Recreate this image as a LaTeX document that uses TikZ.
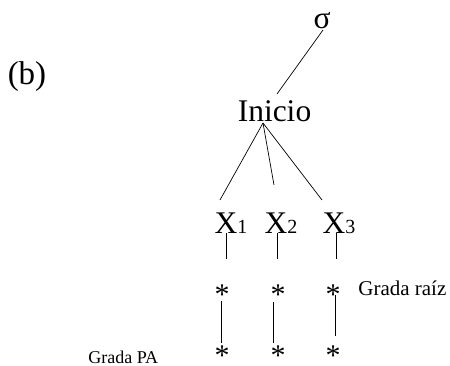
\documentclass[tikz,border=0pt]{standalone}
\usepackage{fontspec}
\setmainfont{Liberation Serif}
\newcommand{\xsub}[1]{{\fontsize{20}{20}\selectfont #1}}
\begin{document}
\begin{tikzpicture}[x=1pt,y=-1pt,line width=0.7pt,
    txt/.style={inner sep=0pt,anchor=base,font=\fontsize{31.5}{36}\selectfont},
    ast/.style={inner sep=0pt,anchor=base,font=\fontsize{30}{34}\selectfont},
    grada/.style={inner sep=0pt,anchor=base west,font=\fontsize{#1}{#1}\selectfont}]
\useasboundingbox (0,0) rectangle (450,366);

% labels and tree nodes
\node[txt,font=\fontsize{33}{38}\selectfont] (b) at (27,85) {(b)};
\node[txt] (sigma) at (322,29) {σ};
\node[txt] (inicio) at (274.5,122) {Inicio};
\node[txt] (x1) at (231,234) {X\xsub{1}};
\node[txt] (x2) at (281,234) {X\xsub{2}};
\node[txt] (x3) at (339,234) {X\xsub{3}};

\node[ast] (a1) at (222,304.6) {*};
\node[ast] (a2) at (278,304.6) {*};
\node[ast] (a3) at (333,304.6) {*};
\node[ast] (c1) at (222,365.5) {*};
\node[ast] (c2) at (278,365.5) {*};
\node[ast] (c3) at (333,365.5) {*};

\node[grada=21] (raiz) at (358,295) {Grada raíz};
\node[grada=18] (pa) at (88,363) {Grada PA};

% connectors
\draw ([xshift=1pt,yshift=-1pt]sigma.base) -- ([xshift=2.5pt,yshift=28pt]inicio.base);
\draw ([xshift=-11.5pt,yshift=-1pt]inicio.base) -- ([xshift=-11pt,yshift=34pt]x1.base);
\draw ([xshift=-11.5pt,yshift=-1pt]inicio.base) -- ([xshift=-7pt,yshift=49pt]x2.base);
\draw ([xshift=-11.5pt,yshift=-1pt]inicio.base) -- ([xshift=-17pt,yshift=34pt]x3.base);

\draw ([xshift=-5pt,yshift=1pt]x1.base) -- ([xshift=4pt,yshift=45.6pt]a1.base);
\draw ([xshift=-4pt,yshift=1pt]x2.base) -- ([xshift=-1pt,yshift=45.6pt]a2.base);
\draw ([xshift=-3pt,yshift=1pt]x3.base) -- ([xshift=3pt,yshift=45.6pt]a3.base);

\draw ([xshift=-1pt,yshift=3.6pt]a1.base) -- ([xshift=-1pt,yshift=23pt]c1.base);
\draw ([xshift=-5pt,yshift=2.6pt]a2.base) -- ([xshift=-5pt,yshift=22.5pt]c2.base);
\draw ([xshift=2pt,yshift=9.6pt]a3.base) -- ([xshift=2pt,yshift=29.5pt]c3.base);
\end{tikzpicture}
\end{document}
